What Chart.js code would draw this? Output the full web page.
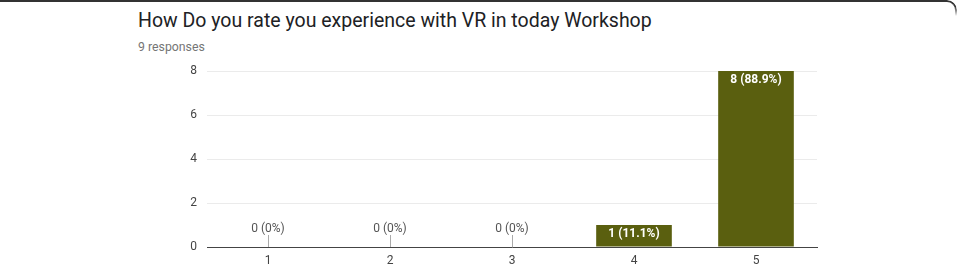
<!DOCTYPE html>
<html>
<head>
<meta charset="utf-8">
<script src="https://cdn.jsdelivr.net/npm/chart.js@4"></script>
<style>
    body { margin: 0; background: #fff; }
    #card {
        position: relative;
        width: 957px;
        height: 266px;
        overflow: hidden;
    }
    #edge {
        position: absolute; left: 0; top: 0; width: 955px; height: 14px;
        border-top: 2px solid #333;
        border-right: 2px solid #333;
        border-top-right-radius: 10px;
        -webkit-mask-image: linear-gradient(to bottom, #000 40%, transparent);
    }
    #title {
        position: absolute; left: 138px; top: 9px;
        font-family: Roboto, sans-serif; font-size: 19.5px; color: #202124;
        white-space: nowrap;
    }
    #sub {
        position: absolute; left: 138px; top: 40px;
        font-family: Roboto, sans-serif; font-size: 12.3px; color: #757575;
    }
    #chart { position: absolute; left: 0; top: 0; }
</style>
</head>
<body>
<div id="card">
    <div id="edge"></div>
    <div id="title">How Do you rate you experience with VR in today Workshop</div>
    <div id="sub">9 responses</div>
    <canvas id="chart" width="957" height="266"></canvas>
</div>
<script>
const categories = ["1", "2", "3", "4", "5"];
const counts = [0, 0, 0, 1, 8];
const percents = ["0%", "0%", "0%", "11.1%", "88.9%"];
const yTicks = [0, 2, 4, 6, 8];

// labels on the bars, little stub for empty ones
const barLabels = {
    id: "barLabels",
    afterDatasetsDraw(chart) {
        const ctx = chart.ctx;
        const meta = chart.getDatasetMeta(0);
        ctx.save();
        ctx.textAlign = "center";
        ctx.textBaseline = "middle";
        meta.data.forEach(function (bar, i) {
            const text = counts[i] + " (" + percents[i] + ")";
            if (counts[i] === 0) {
                ctx.strokeStyle = "#aaa";
                ctx.lineWidth = 1;
                ctx.beginPath();
                ctx.moveTo(Math.round(bar.x) + 0.5, bar.base);
                ctx.lineTo(Math.round(bar.x) + 0.5, bar.base - 12);
                ctx.stroke();
                ctx.fillStyle = "#555";
                ctx.font = "12px Roboto, sans-serif";
                ctx.fillText(text, bar.x, bar.base - 18);
            } else {
                ctx.fillStyle = "#fff";
                ctx.font = "bold 12px Roboto, sans-serif";
                ctx.fillText(text, bar.x, bar.y + 9);
            }
        });
        ctx.restore();
    },
};

const config = {
    type: "bar",
    data: {
        labels: categories,
        datasets: [
            {
                data: counts,
                backgroundColor: "#5a5f0f",
                barPercentage: 0.62,
                categoryPercentage: 1,
            },
        ],
    },
    options: {
        responsive: false,
        animation: false,
        layout: { padding: { top: 71, right: 140, bottom: 0, left: 0 } },
        plugins: {
            legend: { display: false },
            tooltip: { enabled: false },
        },
        scales: {
            x: {
                grid: { display: false, drawTicks: false },
                border: { color: "#444", width: 1 },
                ticks: { color: "#444", font: { family: "Roboto", size: 12 }, padding: 7 },
                afterFit: function (scale) { scale.height = 19; },
            },
            y: {
                min: 0,
                max: 8,
                afterBuildTicks: function (scale) {
                    scale.ticks = yTicks.map(function (v) { return { value: v }; });
                },
                grid: { color: "#ebebeb", drawTicks: false },
                border: { display: false },
                ticks: { color: "#444", font: { family: "Roboto", size: 12 }, padding: 10 },
                afterFit: function (scale) { scale.width = 207; },
            },
        },
    },
    plugins: [barLabels],
};

new Chart(document.getElementById("chart"), config);
</script>
</body>
</html>
